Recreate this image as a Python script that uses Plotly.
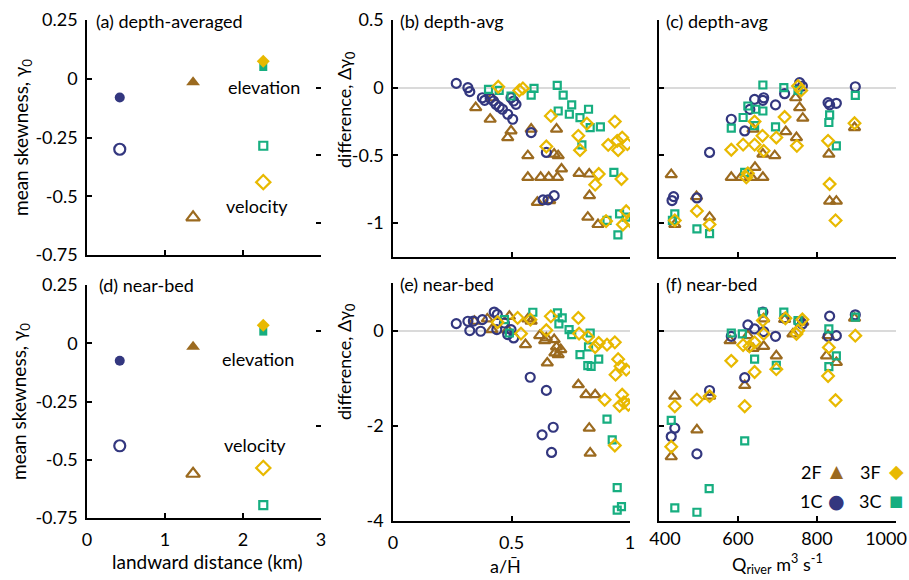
import plotly.graph_objects as go

# ---------------- colours ----------------
C_2F = "#9B6A1F"
C_3F = "#E8B900"
C_1C = "#33377F"
C_3C = "#17AE80"

# ---------------- panel (a)/(d): station means ----------------
stations = ["1C", "2F", "3F", "3C"]
station_km = [0.42, 1.36, 2.26, 2.26]
elev_mean_da = [-0.08, -0.015, 0.075, 0.05]
vel_mean_da = [-0.30, -0.59, -0.44, -0.285]
elev_mean_nb = [-0.075, -0.015, 0.077, 0.05]
vel_mean_nb = [-0.44, -0.56, -0.535, -0.695]

# ---------------- panel (b): depth-avg difference vs a/H ----------------
b_1C_x = [0.267, 0.316, 0.324, 0.377, 0.387, 0.41, 0.424, 0.434, 0.448, 0.462, 0.484, 0.505, 0.498, 0.509, 0.519, 0.583, 0.647, 0.633, 0.654, 0.68]
b_1C_y = [0.032, 0.0, -0.029, -0.074, -0.093, -0.078, -0.098, -0.123, -0.142, -0.159, -0.196, -0.233, -0.074, -0.098, -0.123, -0.331, -0.478, -0.828, -0.828, -0.797]
b_2F_x = [0.349, 0.41, 0.417, 0.498, 0.484, 0.583, 0.569, 0.569, 0.623, 0.657, 0.694, 0.711, 0.697, 0.68, 0.69, 0.609, 0.661, 0.785, 0.828, 0.829, 0.822, 0.865]
b_2F_y = [-0.147, -0.233, -0.074, -0.319, -0.368, -0.306, -0.502, -0.662, -0.662, -0.662, -0.662, -0.6, -0.502, -0.49, -0.306, -0.846, -0.833, -0.632, -0.637, -0.797, -0.956, -1.01]
b_3F_x = [0.444, 0.533, 0.548, 0.666, 0.647, 0.782, 0.789, 0.818, 0.868, 0.853, 0.936, 0.908, 0.946, 0.95, 0.967, 0.989, 0.964, 0.899, 0.97, 0.984, 1.0]
b_3F_y = [0.007, -0.02, -0.005, -0.208, -0.434, -0.355, -0.461, -0.265, -0.637, -0.716, -0.25, -0.422, -0.392, -0.461, -0.368, -0.417, -0.674, -0.985, -1.01, -0.912, -0.985]
b_3C_x = [0.403, 0.448, 0.498, 0.583, 0.595, 0.693, 0.718, 0.754, 0.744, 0.697, 0.789, 0.825, 0.832, 0.875, 0.797, 0.932, 0.903, 0.956, 0.949, 0.984]
b_3C_y = [-0.012, -0.02, -0.061, -0.054, -0.005, 0.017, -0.054, -0.127, -0.196, -0.172, -0.221, -0.159, -0.294, -0.289, -0.422, -0.625, -0.98, -0.931, -1.086, -0.956]

# ---------------- panel (c): depth-avg difference vs Q_river ----------------
c_1C_x = [433, 437, 496, 528, 583, 617, 630, 642, 663, 665, 695, 718, 756, 763, 828, 849, 832, 897]
c_1C_y = [-0.833, -0.804, -0.814, -0.478, -0.233, -0.319, -0.16, -0.086, -0.093, -0.074, -0.127, -0.044, 0.037, 0.012, -0.11, -0.115, -0.127, 0.007]
c_2F_x = [431, 440, 495, 528, 583, 608, 634, 643, 663, 663, 693, 638, 721, 748, 746, 756, 764, 830, 832, 849, 895]
c_2F_y = [-0.642, -1.01, -0.804, -0.956, -0.662, -0.662, -0.662, -0.588, -0.662, -0.49, -0.502, -0.306, -0.324, -0.368, -0.074, -0.147, -0.225, -0.49, -0.838, -0.838, -0.294]
c_3F_x = [440, 496, 528, 583, 613, 621, 625, 642, 642, 662, 665, 697, 718, 749, 752, 760, 828, 832, 847, 895]
c_3F_y = [-0.98, -0.91, -1.01, -0.458, -0.42, -0.662, -0.632, -0.25, -0.42, -0.355, -0.466, -0.368, -0.216, -0.429, 0.012, -0.02, -0.392, -0.711, -0.98, -0.262]
c_3C_x = [440, 434, 496, 528, 583, 613, 625, 645, 663, 663, 695, 716, 752, 832, 830, 849, 897, 617, 642]
c_3C_y = [-0.931, -0.98, -1.042, -1.078, -0.299, -0.22, -0.135, -0.159, -0.172, 0.02, -0.289, 0.0, -0.02, -0.2, -0.257, -0.429, -0.056, -0.625, -0.28]

# ---------------- panel (e): near-bed difference vs a/H ----------------
e_1C_x = [0.267, 0.316, 0.324, 0.37, 0.377, 0.427, 0.44, 0.438, 0.47, 0.484, 0.509, 0.498, 0.579, 0.647, 0.629, 0.676, 0.669, 0.339]
e_1C_y = [0.147, 0.196, 0.0, -0.014, 0.23, 0.39, 0.34, 0.02, 0.16, -0.084, -0.154, 0.02, -0.98, -1.256, -2.19, -2.03, -2.56, 0.2]
e_2F_x = [0.344, 0.398, 0.417, 0.484, 0.491, 0.569, 0.583, 0.559, 0.619, 0.64, 0.651, 0.68, 0.69, 0.697, 0.708, 0.782, 0.814, 0.853, 0.828, 0.832, 0.647, 0.683]
e_2F_y = [0.196, 0.245, 0.02, 0.007, 0.3, 0.245, 0.196, -0.295, -0.105, -0.21, -0.68, -0.19, -0.344, -0.505, -0.4, -1.137, -1.347, -1.347, -2.05, -2.575, -0.154, -0.47]
e_3F_x = [0.441, 0.526, 0.54, 0.58, 0.647, 0.666, 0.782, 0.785, 0.822, 0.853, 0.868, 0.903, 0.936, 0.95, 0.96, 0.939, 0.984, 0.893, 0.967, 0.974, 0.993, 0.956, 0.936]
e_3F_y = [0.175, 0.267, -0.063, 0.23, 0.007, 0.3, 0.267, -0.063, -0.133, -0.344, -0.26, -0.295, -0.246, -0.6, -0.75, -0.926, -0.82, -1.453, -1.347, -1.51, -1.56, -1.58, -2.414]
e_3C_x = [0.47, 0.491, 0.59, 0.694, 0.714, 0.7, 0.743, 0.754, 0.789, 0.822, 0.832, 0.825, 0.868, 0.836, 0.903, 0.925, 0.946, 0.946, 0.964]
e_3C_y = [0.23, -0.05, 0.386, 0.372, 0.267, 0.14, 0.02, -0.084, -0.505, -0.737, -0.05, -0.344, -0.6, -0.75, -1.86, -2.295, -3.3, -3.77, -3.7]

# ---------------- panel (f): near-bed difference vs Q_river ----------------
f_1C_x = [431, 440, 496, 528, 583, 617, 625, 642, 663, 665, 695, 718, 754, 763, 832, 828, 849, 897]
f_1C_y = [-2.226, -2.05, -2.59, -1.258, -0.12, -0.99, 0.12, 0.035, 0.39, -0.02, -0.12, 0.26, 0.19, 0.14, 0.304, -0.12, -0.106, 0.332]
f_2F_x = [440, 431, 496, 528, 580, 617, 625, 638, 665, 665, 697, 718, 739, 764, 828, 824, 849, 895]
f_2F_y = [-1.378, -2.65, -2.085, -1.378, -0.212, -1.152, -0.106, -0.375, -0.332, 0.247, -0.53, 0.233, -0.07, 0.177, -0.106, -0.53, -0.67, 0.26]
f_3F_x = [440, 431, 496, 528, 583, 613, 617, 629, 642, 642, 665, 663, 697, 720, 748, 752, 763, 830, 828, 847, 897]
f_3F_y = [-1.59, -2.44, -1.449, -1.378, -0.636, -0.304, -1.59, -0.332, -0.247, -0.87, -0.07, 0.212, -0.81, 0.26, -0.07, 0.0, 0.233, -0.353, -0.954, -1.463, -0.106]
f_3C_x = [431, 440, 496, 527, 583, 611, 617, 642, 662, 697, 716, 752, 830, 830, 849, 897]
f_3C_y = [-1.887, -3.724, -3.816, -3.32, -0.05, -0.07, -2.318, -0.6, 0.389, -0.728, 0.389, 0.212, 0.035, -0.756, -0.53, 0.283]

# ---------------- tick labels ----------------
yt_a = [0.25, 0, -0.25, -0.5, -0.75]
yt_a_txt = ["0.25", "0", "-0.25", "-0.5", "-0.75"]
yt_b = [0.5, 0, -0.5, -1]
yt_b_txt = ["0.5", "0", "-0.5", "-1"]
yt_e = [0, -2, -4]
yt_e_txt = ["0", "-2", "-4"]
xt_d = [0, 1, 2, 3]
xt_d_txt = ["0", "1", "2", "3"]
xt_e = [0, 0.5, 1]
xt_e_txt = ["0", "0.5", "1"]
xt_f = [400, 600, 800, 1000]
xt_f_lo = [400]
xt_f_lo_txt = ["400"]
xt_f_mid = [600, 800]
xt_f_mid_txt = ["600", "800"]
xt_f_hi = [1000]
xt_f_hi_txt = ["1000"]

FONT = "Lato, 'Open Sans', sans-serif"
W, H = 909, 580


def px(x):
    return x / W


def py(y):
    return 1 - y / H


fig = go.Figure()


def open_pts(x, y, symbol, color, size, xa, ya):
    fig.add_trace(go.Scatter(
        x=x, y=y, mode="markers", xaxis=xa, yaxis=ya, showlegend=False,
        marker=dict(symbol=symbol + "-open", size=size, color=color,
                    line=dict(width=2.2, color=color))))


def filled_pt(x, y, symbol, color, size, xa, ya):
    fig.add_trace(go.Scatter(
        x=[x], y=[y], mode="markers", xaxis=xa, yaxis=ya, showlegend=False,
        marker=dict(symbol=symbol, size=size, color=color, line=dict(width=0))))


sym = {"1C": "circle", "2F": "triangle-up", "3F": "diamond", "3C": "square"}
col = {"1C": C_1C, "2F": C_2F, "3F": C_3F, "3C": C_3C}
fsize = {"1C": 10, "2F": 12, "3F": 10, "3C": 8}
osize = {"1C": 11, "2F": 12, "3F": 11, "3C": 8}

# panels (a) and (d)
for ya_, xa_, elev, vel in [("y", "x", elev_mean_da, vel_mean_da), ("y4", "x4", elev_mean_nb, vel_mean_nb)]:
    for i, s in enumerate(stations):
        open_pts([station_km[i]], [vel[i]], sym[s], col[s], osize[s], xa_, ya_)
    for s in ["1C", "2F", "3C", "3F"]:
        j = stations.index(s)
        filled_pt(station_km[j], elev[j], sym[s], col[s], fsize[s], xa_, ya_)

# scatter panels
ms = {"1C": 9, "2F": 10, "3F": 9, "3C": 7}
series = {
    ("x2", "y2"): [("2F", b_2F_x, b_2F_y), ("1C", b_1C_x, b_1C_y), ("3C", b_3C_x, b_3C_y), ("3F", b_3F_x, b_3F_y)],
    ("x3", "y3"): [("2F", c_2F_x, c_2F_y), ("1C", c_1C_x, c_1C_y), ("3C", c_3C_x, c_3C_y), ("3F", c_3F_x, c_3F_y)],
    ("x5", "y5"): [("2F", e_2F_x, e_2F_y), ("1C", e_1C_x, e_1C_y), ("3C", e_3C_x, e_3C_y), ("3F", e_3F_x, e_3F_y)],
    ("x6", "y6"): [("2F", f_2F_x, f_2F_y), ("1C", f_1C_x, f_1C_y), ("3C", f_3C_x, f_3C_y), ("3F", f_3F_x, f_3F_y)],
}
for (xa_, ya_), lst in series.items():
    for s, xs, ys in lst:
        open_pts(xs, ys, sym[s], col[s], ms[s], xa_, ya_)

# empty traces for the tick-only / label-only overlay axes
for xa_, ya_ in [("x2", "y7"), ("x5", "y8"), ("x5", "y9"), ("x7", "y6"), ("x8", "y6"), ("x9", "y6")]:
    fig.add_trace(go.Scatter(x=[], y=[], xaxis=xa_, yaxis=ya_, showlegend=False))

tickfont = dict(family=FONT, size=18, color="black")
common_ax = dict(showline=True, linecolor="black", linewidth=1.5, ticks="inside",
                 ticklen=5, tickwidth=1.5, tickcolor="black", showgrid=False,
                 tickfont=tickfont, mirror=False, automargin=False)


def xaxis(dom, rng, tv, tt, anchor):
    d = dict(domain=[px(dom[0]), px(dom[1])], range=rng, tickvals=tv,
             anchor=anchor, zeroline=False, ticklabelstandoff=5, **common_ax)
    if tt is None:
        d["showticklabels"] = False
    else:
        d["ticktext"] = tt
    return d


def yaxis(dom, rng, tv, tt, anchor, zero):
    d = dict(domain=[py(dom[1]), py(dom[0])], range=rng, tickvals=tv,
             anchor=anchor, zeroline=zero, zerolinecolor="#DADADA", zerolinewidth=2,
             ticklabelstandoff=4, **common_ax)
    if tt is None:
        d["showticklabels"] = False
    else:
        d["ticktext"] = tt
    return d


def tick_only(over, side, rng, tv):
    return dict(overlaying=over, side=side, range=rng, tickvals=tv,
                showticklabels=False, showline=False, ticks="inside", ticklen=5,
                tickwidth=1.5, tickcolor="black", showgrid=False, zeroline=False,
                automargin=False)


def label_only_x(over, rng, tv, tt, shift):
    return dict(overlaying=over, anchor="y6", side="bottom", range=rng, tickvals=tv,
                ticktext=tt, ticks="", showline=False, showgrid=False, zeroline=False,
                tickfont=tickfont, ticklabelstandoff=5, ticklabelshift=shift,
                automargin=False)


XA = (87, 321)
XB = (393, 630)
XC = (659, 896)
YTOP_A = (20, 255)
YTOP_B = (20, 257)
YBOT_D = (285, 518)
YBOT_E = (283, 521)

fig.update_layout(
    width=W, height=H, margin=dict(l=0, r=0, t=0, b=0, autoexpand=False),
    paper_bgcolor="white", plot_bgcolor="white",
    font=dict(family=FONT, size=18, color="black"),
    xaxis=xaxis(XA, [0, 3], xt_d, None, "y"),
    yaxis=yaxis(YTOP_A, [-0.75, 0.25], yt_a, yt_a_txt, "x", False),
    xaxis2=xaxis(XB, [0, 1], xt_e, None, "y2"),
    yaxis2=yaxis(YTOP_B, [-1.25, 0.5], yt_b, yt_b_txt, "x2", True),
    xaxis3=xaxis(XC, [400, 1000], xt_f, None, "y3"),
    yaxis3=yaxis(YTOP_B, [-1.25, 0.5], yt_b, None, "x3", True),
    xaxis4=xaxis(XA, [0, 3], xt_d, xt_d_txt, "y4"),
    yaxis4=yaxis(YBOT_D, [-0.75, 0.25], yt_a, yt_a_txt, "x4", False),
    xaxis5=xaxis(XB, [0, 1], xt_e, xt_e_txt, "y5"),
    yaxis5=yaxis(YBOT_E, [-4, 1], yt_e, yt_e_txt, "x5", True),
    xaxis6=xaxis(XC, [400, 1000], xt_f, None, "y6"),
    yaxis6=yaxis(YBOT_E, [-4, 1], [1, 0, -2, -4], None, "x6", True),
    yaxis7=tick_only("y2", "right", [-1.25, 0.5], [0, -0.5, -1]),
    yaxis8=tick_only("y5", "right", [-4, 1], [0, -2]),
    yaxis9=tick_only("y5", "left", [-4, 1], [1]),
    xaxis7=label_only_x("x6", [400, 1000], xt_f_lo, xt_f_lo_txt, 6),
    xaxis8=label_only_x("x6", [400, 1000], xt_f_mid, xt_f_mid_txt, 0),
    xaxis9=label_only_x("x6", [400, 1000], xt_f_hi, xt_f_hi_txt, -10),
)

ann = []


def text(x, y, t, size=18, xanchor="center", color="black", angle=0, fam=FONT):
    ann.append(dict(x=px(x), y=py(y), xref="paper", yref="paper", text=t, showarrow=False,
                    xanchor=xanchor, yanchor="middle", textangle=angle,
                    font=dict(family=fam, size=size, color=color)))


# panel titles
text(94, 21, "(a) depth-averaged", xanchor="left")
text(398, 21, "(b) depth-avg", xanchor="left")
text(664, 21, "(c) depth-avg", xanchor="left")
text(97, 285, "(d) near-bed", xanchor="left")
text(398, 284, "(e) near-bed", xanchor="left")
text(664, 284, "(f) near-bed", xanchor="left")

# in-panel labels
text(264, 87, "elevation")
text(257, 206, "velocity")
text(258, 359, "elevation")
text(255, 445, "velocity")

# axis titles
text(22, 138, "mean skewness, γ<sub>0</sub>", size=19, angle=-90)
text(20, 402, "mean skewness, γ<sub>0</sub>", size=19, angle=-90)
text(345, 110, "difference, Δγ<sub>0</sub>", angle=-90)
text(345, 362, "difference, Δγ<sub>0</sub>", angle=-90)
text(207, 561, "landward distance (km)", size=19)
text(505, 566, "a/H\u0304")
text(777, 564, "Q<sub>river</sub> m<sup>3</sup> s<sup>-1</sup>")

# legend
GLYPH = "DejaVu Sans"
text(811, 472, "2F")
text(837, 471, "▲", size=17, color=C_2F, fam=GLYPH)
text(870, 472, "3F")
text(896, 471, "◆", size=19, color=C_3F, fam=GLYPH)
text(811, 501, "1C")
text(836, 501, "●", size=19, color=C_1C, fam=GLYPH)
text(870, 501, "3C")
text(896, 501, "■", size=15, color=C_3C, fam=GLYPH)

fig.update_layout(annotations=ann)

fig.write_html("out.html", config={"displayModeBar": False},
               post_script="document.body.style.margin='0px';")
